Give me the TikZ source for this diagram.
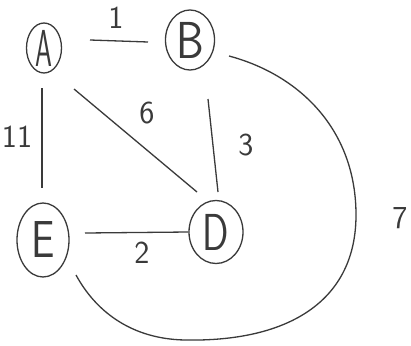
\documentclass[tikz,border=0pt]{standalone}
\usetikzlibrary{shapes.geometric}
\definecolor{ink}{HTML}{3A3A3A}
\begin{document}
\begin{tikzpicture}[x=1pt,y=-1pt,
  vert/.style={draw=ink,ellipse,line width=1.3pt,inner sep=-8pt,font=\sffamily\fontsize{52}{52}\selectfont,text=ink},
  edge/.style={draw=ink,line width=1.3pt},
  wlabel/.style={font=\sffamily\fontsize{32}{32}\selectfont,text=ink}]
\useasboundingbox[fill=white] (0,0) rectangle (411,345);
\node[vert,minimum width=35pt,minimum height=50pt] (A) at (44,48) {\scalebox{0.52}[1]{A}};
\node[vert,minimum width=49pt,minimum height=60pt] (B) at (190,40) {\scalebox{0.85}[1]{B}};
\node[vert,minimum width=52pt,minimum height=74pt] (E) at (43,240) {\scalebox{0.8}[1]{E}};
\node[vert,minimum width=54pt,minimum height=63pt] (D) at (216,232) {\scalebox{0.75}[1]{D}};
\coordinate (ab1) at (90,40); \coordinate (ab2) at (148,42);
\coordinate (ae1) at (42,88); \coordinate (ae2) at (42,188);
\coordinate (ad1) at (74,89); \coordinate (ad2) at (197,192);
\coordinate (bd1) at (208,99); \coordinate (bd2) at (218,192);
\coordinate (ed1) at (85,233); \coordinate (ed2) at (D.west);
\coordinate (be1) at (229,56); \coordinate (be2) at (76,275);
\draw[edge] (ab1) -- (ab2);
\draw[edge] (ae1) -- (ae2);
\draw[edge] (ad1) -- (ad2);
\draw[edge] (bd1) -- (bd2);
\draw[edge] (ed1) -- (ed2);
\draw[edge] (be1) .. controls (300,75) and (356,130) .. (356,215)
  .. controls (356,300) and (290,342) .. (185,340)
  .. controls (130,339) and (95,310) .. (be2);
\node[wlabel] (l1) at (116,18) {1};
\node[wlabel] (l11) at (17,137) {11};
\node[wlabel] (l6) at (147,113) {6};
\node[wlabel] (l3) at (246,145) {3};
\node[wlabel] (l2) at (142,253) {2};
\node[wlabel] (l7) at (400,218) {7};
\end{tikzpicture}
\end{document}
